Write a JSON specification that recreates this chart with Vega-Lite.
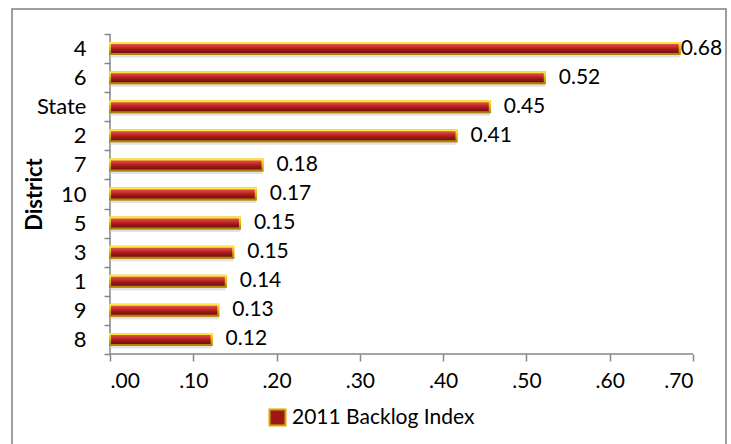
{
  "$schema": "https://vega.github.io/schema/vega-lite/v6.json",
  "width": 714,
  "height": 440,
  "autosize": {"type": "none"},
  "padding": {"left": 12, "top": 9, "right": 5, "bottom": 0},
  "background": "white",
  "config": {"view": {"stroke": "#7f7f7f", "strokeWidth": 1.5}, "font": "Lato"},
  "data": {
    "values": [
      {"district": "4", "value": 0.684, "label": "0.68", "series": "2011 Backlog Index"},
      {"district": "6", "value": 0.522, "label": "0.52", "series": "2011 Backlog Index"},
      {"district": "State", "value": 0.456, "label": "0.45", "series": "2011 Backlog Index"},
      {"district": "2", "value": 0.416, "label": "0.41", "series": "2011 Backlog Index"},
      {"district": "7", "value": 0.183, "label": "0.18", "series": "2011 Backlog Index"},
      {"district": "10", "value": 0.175, "label": "0.17", "series": "2011 Backlog Index"},
      {"district": "5", "value": 0.156, "label": "0.15", "series": "2011 Backlog Index"},
      {"district": "3", "value": 0.148, "label": "0.15", "series": "2011 Backlog Index"},
      {"district": "1", "value": 0.139, "label": "0.14", "series": "2011 Backlog Index"},
      {"district": "9", "value": 0.130, "label": "0.13", "series": "2011 Backlog Index"},
      {"district": "8", "value": 0.122, "label": "0.12", "series": "2011 Backlog Index"}
    ]
  },
  "encoding": {
    "y": {
      "field": "district",
      "type": "nominal",
      "sort": ["4", "6", "State", "2", "7", "10", "5", "3", "1", "9", "8"],
      "scale": {"paddingInner": 0, "paddingOuter": 0, "range": [25, 345]},
      "axis": {
        "title": "District",
        "offset": -98,
        "domain": false,
        "titleFontSize": 22,
        "titleFontWeight": "bold",
        "titleColor": "black",
        "titleAngle": -90,
        "titleX": -76,
        "titleY": 185,
        "titleAlign": "center",
        "titleBaseline": "middle",
        "labelFontSize": 22,
        "labelColor": "black",
        "labelPadding": 18,
        "tickBand": "extent",
        "tickSize": 6,
        "tickColor": "#868686",
        "tickWidth": 1.5,
        "grid": false
      }
    },
    "x": {
      "field": "value",
      "type": "quantitative",
      "scale": {"domain": [0, 0.7], "nice": false, "range": [98, 681]},
      "axis": {
        "title": null,
        "offset": -95,
        "domain": false,
        "values": [0, 0.1, 0.2, 0.3, 0.4, 0.5, 0.6, 0.7],
        "labelExpr": "substring(format(datum.value, '.2f'), 1)",
        "labelFontSize": 21,
        "labelColor": "black",
        "labelPadding": 9,
        "tickSize": 7,
        "tickColor": "#868686",
        "tickWidth": 1.5,
        "grid": false
      }
    }
  },
  "layer": [
    {
      "mark": {"type": "rect", "stroke": "#868686", "strokeWidth": 1.5, "fill": null},
      "encoding": {
        "x": {"datum": 0, "type": "quantitative"},
        "x2": {"datum": 0}
      }
    },
    {
      "transform": [{"filter": "datum.district === '8'"}],
      "mark": {"type": "rule", "stroke": "#868686", "strokeWidth": 1.5},
      "encoding": {
        "x": {"datum": 0, "type": "quantitative"},
        "x2": {"datum": 0.7},
        "y": {"field": "district", "type": "nominal", "bandPosition": 1, "sort": ["4", "6", "State", "2", "7", "10", "5", "3", "1", "9", "8"]}
      }
    },
    {
      "mark": {"type": "bar", "size": 10, "yOffset": 4, "fill": "#c8c8c8", "opacity": 0.55},
      "encoding": {}
    },
    {
      "mark": {"type": "bar", "size": 11, "strokeWidth": 2, "stroke": "#d4a800"},
      "encoding": {
        "fill": {
          "field": "series",
          "type": "nominal",
          "scale": {"range": ["#9e1818"]},
          "legend": {
            "title": null,
            "orient": "none",
            "legendX": 255,
            "legendY": 398,
            "padding": 0,
            "symbolType": "square",
            "symbolSize": 256,
            "symbolStrokeColor": "#d4a800",
            "symbolStrokeWidth": 2,
            "labelFontSize": 21,
            "labelLimit": 400,
            "labelColor": "black",
            "labelOffset": 4
          }
        }
      }
    },
    {
      "mark": {
        "type": "bar",
        "size": 11,
        "strokeWidth": 2,
        "fill": {
          "gradient": "linear", "x1": 0, "y1": 0, "x2": 0, "y2": 1,
          "stops": [
            {"offset": 0, "color": "#e8605a"},
            {"offset": 0.35, "color": "#c8302c"},
            {"offset": 0.6, "color": "#9e1818"},
            {"offset": 1, "color": "#6e0a0a"}
          ]
        },
        "stroke": {
          "gradient": "linear", "x1": 0, "y1": 0, "x2": 0, "y2": 1,
          "stops": [
            {"offset": 0, "color": "#ffe640"},
            {"offset": 0.5, "color": "#e0b400"},
            {"offset": 1, "color": "#a88410"}
          ]
        }
      },
      "encoding": {}
    },
    {
      "transform": [{"filter": "datum.value < 0.6"}],
      "mark": {"type": "text", "align": "left", "baseline": "middle", "dx": 14, "fontSize": 21, "color": "black"},
      "encoding": {"text": {"field": "label"}}
    },
    {
      "transform": [{"filter": "datum.value >= 0.6"}],
      "mark": {"type": "text", "align": "left", "baseline": "middle", "dx": 1, "fontSize": 21, "color": "black"},
      "encoding": {"text": {"field": "label"}}
    }
  ]
}
